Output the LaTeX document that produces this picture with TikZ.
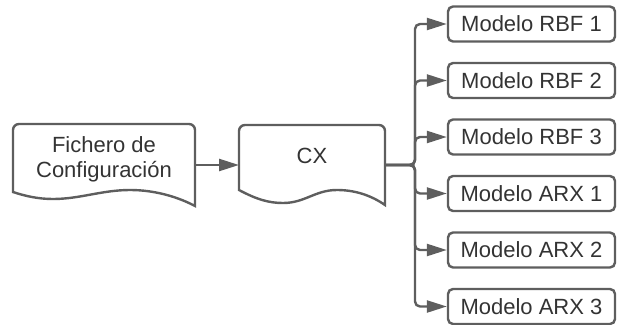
\documentclass[tikz,border=0pt]{standalone}
\usepackage{fontspec}
\setmainfont{Liberation Sans}
\usetikzlibrary{arrows.meta}
\definecolor{lc}{HTML}{5E5E5E}
\definecolor{tc}{HTML}{333333}
\begin{document}
\begin{tikzpicture}[x=1pt,y=-1pt,
  line width=2.4pt,
  docshape/.style={draw=lc, line join=miter},
  model/.style={draw=lc, rounded corners=5pt, minimum width=167pt, minimum height=35pt,
    inner sep=0pt, font=\fontsize{22}{25}\selectfont, text=tc},
  lbl/.style={text=tc, font=\fontsize{22}{25}\selectfont, align=center, inner sep=0pt},
  conn/.style={draw=lc, rounded corners=5pt, -{Triangle[length=20pt,width=12pt]}}
]
\useasboundingbox (0,0) rectangle (617,324);
% Fichero de Configuracion (document shape)
\draw[docshape] (13,192) .. controls (25,196) and (38,199) .. (53,199)
  .. controls (80,199) and (102,190) .. (130,190)
  .. controls (155,190) and (178,197) .. (195,206)
  [rounded corners=6pt] -- (195,124) -- (13,124) -- (13,150)
  [sharp corners] -- cycle;
\node[lbl] (fich) at (104,159) {Fichero de\\Configuración};
% CX (document shape)
\draw[docshape] (239,190) .. controls (256,199) and (268,203) .. (283,203)
  .. controls (305,203) and (315,190) .. (337,190)
  .. controls (356,190) and (372,196) .. (385,205)
  [rounded corners=6pt] -- (385,125) -- (239,125) -- (239,150)
  [sharp corners] -- cycle;
\node[lbl] (cx) at (312,156) {CX};
\coordinate (fichE) at (195,165);
\coordinate (cxW) at (239,165);
\coordinate (cxE) at (385,165);
\coordinate (trunk) at (415,165);
% models
\node[model] (m1) at (531.5,24) {Modelo RBF 1};
\node[model] (m2) at (531.5,80.5) {Modelo RBF 2};
\node[model] (m3) at (531.5,137) {Modelo RBF 3};
\node[model] (m4) at (531.5,193.5) {Modelo ARX 1};
\node[model] (m5) at (531.5,250) {Modelo ARX 2};
\node[model] (m6) at (531.5,306.5) {Modelo ARX 3};
% connectors
\draw[conn] (fichE) -- (cxW);
\foreach \m in {m1,m2,m3,m4,m5,m6}{
  \draw[conn] (cxE) -- (trunk) |- (\m.west);
}
\end{tikzpicture}
\end{document}
